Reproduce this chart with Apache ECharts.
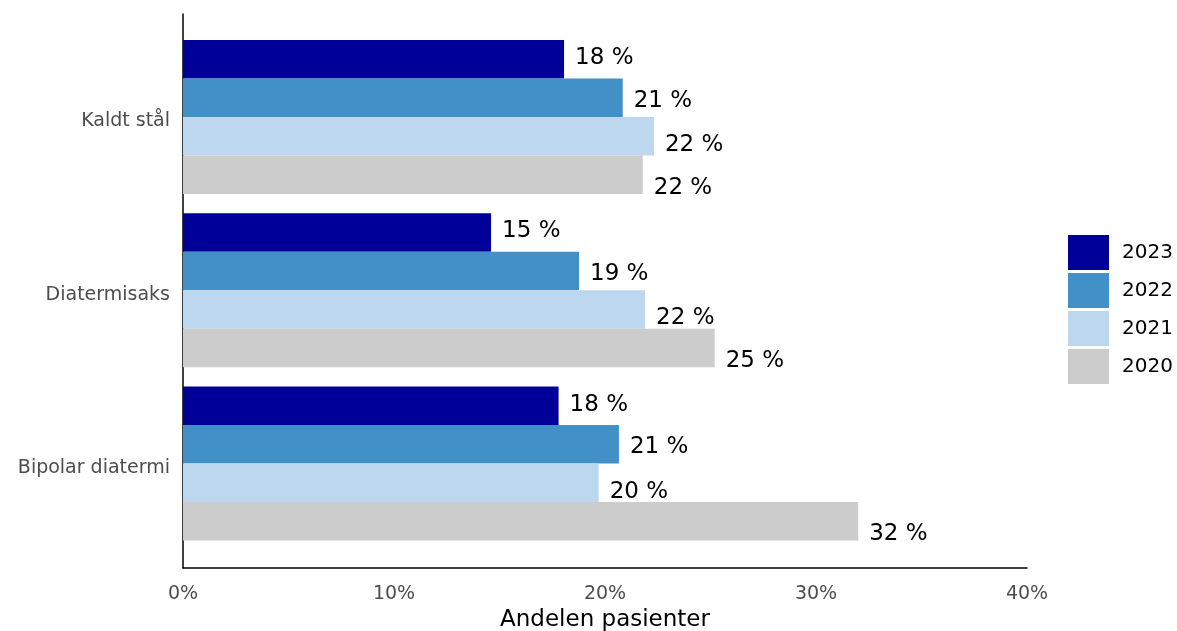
<!DOCTYPE html>
<html>
<head>
<meta charset="utf-8">
<script src="https://cdn.jsdelivr.net/npm/echarts@6/dist/echarts.min.js"></script>
<style>
  html, body { margin: 0; padding: 0; background: #fff; }
  #chart { width: 1177px; height: 631px; }
</style>
</head>
<body>
<div id="chart"></div>
<script>
// Share of patients per method, by year (percent)
const categories = ['Kaldt stål', 'Diatermisaks', 'Bipolar diatermi'];
const years = ['2023', '2022', '2021', '2020'];
const values2023 = [18.06, 14.6, 17.8];
const values2022 = [20.84, 18.77, 20.66];
const values2021 = [22.32, 21.9, 19.7];
const values2020 = [21.79, 25.2, 32.0];
const xTicks = [0, 10, 20, 30, 40];

const seriesValues = [values2023, values2022, values2021, values2020];
const colors = ['#000099', '#4191C8', '#BDD7EE', '#CCCCCC'];
// vertical nudge of the value labels for each year
const labelShift = [-1, 3, 9, 13];

const FONT = 'DejaVu Sans';
const chart = echarts.init(document.getElementById('chart'), null, { renderer: 'canvas' });

const series = years.map((y, i) => ({
  name: y,
  type: 'bar',
  xAxisIndex: 0,
  yAxisIndex: 0,
  data: seriesValues[i],
  barWidth: 38.5,
  barGap: '0%',
  itemStyle: { color: colors[i] },
  label: {
    show: true,
    position: 'right',
    distance: 11,
    offset: [0, labelShift[i]],
    color: '#000',
    fontFamily: FONT,
    fontSize: 23,
    formatter: p => Math.round(p.value) + ' %'
  },
  emphasis: { disabled: true }
}));

chart.setOption({
  animation: false,
  backgroundColor: '#fff',
  textStyle: { fontFamily: FONT },
  legend: {
    orient: 'vertical',
    left: 1068,
    top: 235,
    padding: 0,
    itemWidth: 41,
    itemHeight: 35,
    itemGap: 3,
    icon: 'rect',
    data: years,
    textStyle: { color: '#000', fontSize: 20, fontFamily: FONT, padding: [0, 0, 0, 8] }
  },
  grid: [
    // bar area (category bands)
    { left: 183, right: 150, top: 30.4, bottom: 80.9, outerBoundsMode: 'none' },
    // full panel frame carrying the axis lines
    { left: 183, right: 150, top: 14, bottom: 63, outerBoundsMode: 'none' }
  ],
  xAxis: [
    { type: 'value', gridIndex: 0, min: 0, max: 40, interval: 10, show: false },
    {
      type: 'value', gridIndex: 1, min: xTicks[0], max: xTicks[xTicks.length - 1], interval: 10,
      axisLine: { show: true, lineStyle: { color: '#000', width: 1.5 } },
      axisTick: { show: false },
      splitLine: { show: false },
      axisLabel: { color: '#4d4d4d', fontSize: 19, fontFamily: FONT, margin: 17, formatter: '{value}%' },
      name: 'Andelen pasienter',
      nameLocation: 'middle',
      nameGap: 41,
      nameTextStyle: { color: '#000', fontSize: 23, fontFamily: FONT }
    }
  ],
  yAxis: [
    {
      type: 'category', gridIndex: 0, data: categories, inverse: true,
      axisLine: { show: false },
      axisTick: { show: false },
      splitLine: { show: false },
      axisLabel: {
        color: '#4d4d4d', fontSize: 19, fontFamily: FONT, margin: 13,
        verticalAlign: 'top', lineHeight: 9
      }
    },
    {
      type: 'value', gridIndex: 1, min: 0, max: 1,
      axisLine: { show: true, lineStyle: { color: '#000', width: 1.5 } },
      axisTick: { show: false },
      axisLabel: { show: false },
      splitLine: { show: false }
    }
  ],
  series: series
});
</script>
</body>
</html>
